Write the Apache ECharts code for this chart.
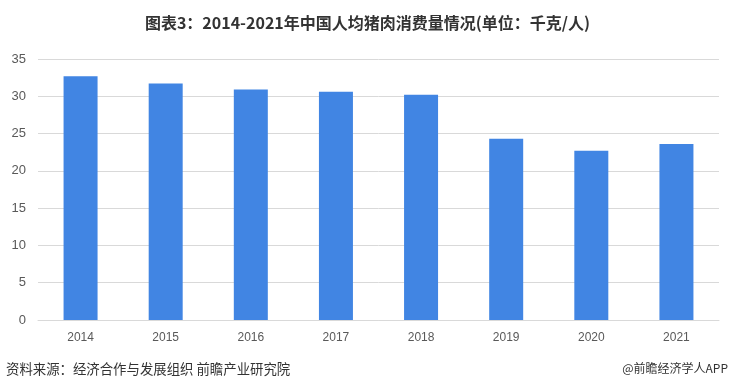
<!DOCTYPE html>
<html><head><meta charset="utf-8">
<script src="https://cdn.jsdelivr.net/npm/echarts@6/dist/echarts.min.js"></script>
<style>html,body{margin:0;padding:0;background:#fff}#c{width:735px;height:391px}</style>
</head><body><div id="c"></div>
<script>
const categories = ['2014','2015','2016','2017','2018','2019','2020','2021'];
const values = [32.7, 31.7, 30.9, 30.6, 30.2, 24.3, 22.7, 23.6];
const yTicks = [0, 5, 10, 15, 20, 25, 30, 35];
const titleText = '图表3：2014-2021年中国人均猪肉消费量情况(单位：千克/人)';
const sourceText = '资料来源：经济合作与发展组织 前瞻产业研究院';
const brandText = '@前瞻经济学人APP';

const chart = echarts.init(document.getElementById('c'));
chart.setOption({
  backgroundColor: '#fff',
  animation: false,
  title: {
    text: titleText, left: 'center', top: 10,
    textStyle: {fontSize: 16, fontWeight: 'bold', color: '#333', fontFamily: '"Noto Sans CJK SC", sans-serif'}
  },
  graphic: [
    {type: 'text', left: 6, top: 362, style: {text: sourceText, fontSize: 13.4, fill: '#333', fontFamily: '"Noto Sans CJK SC", sans-serif'}},
    {type: 'text', right: 7, top: 362, style: {text: brandText, fontSize: 12, fill: '#333', fontFamily: '"Noto Sans CJK SC", sans-serif'}}
  ],
  grid: {left: 38, right: 16, top: 59, bottom: 71},
  xAxis: {
    type: 'category', data: categories,
    axisLine: {show: true, lineStyle: {color: '#d9d9d9'}},
    axisTick: {show: false},
    axisLabel: {color: '#595959', fontSize: 12, margin: 12, fontFamily: 'Liberation Sans, Arial, sans-serif'}
  },
  yAxis: {
    type: 'value', min: yTicks[0], max: yTicks[yTicks.length - 1], interval: 5,
    axisLine: {show: false}, axisTick: {show: false},
    splitLine: {lineStyle: {color: '#d9d9d9'}},
    axisLabel: {color: '#595959', fontSize: 13, margin: 12, fontFamily: 'Liberation Sans, Arial, sans-serif'}
  },
  series: [{
    type: 'bar', data: values, barWidth: 34,
    itemStyle: {color: '#4185e3'}
  }]
});
</script></body></html>
